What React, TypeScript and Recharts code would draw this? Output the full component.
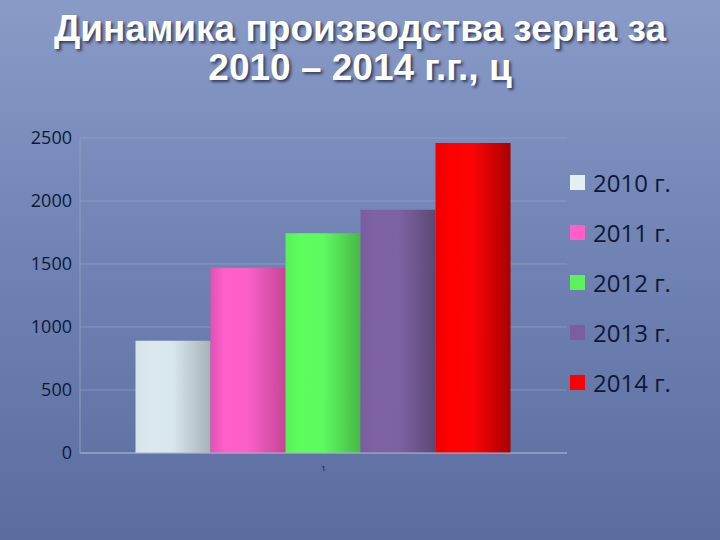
import React from "react";
import { BarChart, Bar, XAxis, YAxis, CartesianGrid, Legend } from "recharts";

const categories = ["1"];
const seriesKeys = ["y2010", "y2011", "y2012", "y2013", "y2014"];
const seriesNames = ["2010 г.", "2011 г.", "2012 г.", "2013 г.", "2014 г."];
const seriesValues = [890, 1470, 1745, 1930, 2460];
const yTicks = [0, 500, 1000, 1500, 2000, 2500];

// left / light / right stops of each cylinder-ish bar
const barStops = [
    ["#d5e3ea", "#dbe9ef", "#a6b2b8"],
    ["#e052b4", "#ff5fc9", "#c44696"],
    ["#58f058", "#5dfd5d", "#47b847"],
    ["#7a5d9e", "#7e62a2", "#5c4874"],
    ["#ee0000", "#ff0000", "#a80000"],
];
const legendColors = ["#e2f1ef", "#ff5fc9", "#5cf25c", "#7c5e9c", "#ff0000"];

const data = categories.map((name) => {
    const row: Record<string, string | number> = { name };
    seriesKeys.forEach((k, i) => {
        row[k] = seriesValues[i];
    });
    return row;
});

const textColor = "#0e1838";

const renderLegend = (props: any) => {
    const payload = props.payload || [];
    return (
        <div>
            {payload.map((entry: any, i: number) => (
                <div
                    key={`leg-${i}`}
                    style={{ display: "flex", alignItems: "center", height: 50 }}
                >
                    <div
                        style={{
                            width: 15,
                            height: 15,
                            background: legendColors[i],
                            marginRight: 8,
                        }}
                    />
                    <span style={{ fontFamily: "'Open Sans'", fontSize: 24, color: textColor }}>
                        {entry.value}
                    </span>
                </div>
            ))}
        </div>
    );
};

export default function App() {
    return (
        <div
            style={{
                position: "fixed",
                left: 0,
                top: 0,
                width: 720,
                height: 540,
                background: "linear-gradient(to bottom, #8a9bc7 0%, #7386b6 40%, #5b6d9f 100%)",
                overflow: "hidden",
            }}
        >
            <div
                style={{
                    position: "absolute",
                    left: 0,
                    top: 9,
                    width: 720,
                    textAlign: "center",
                    fontFamily: "'Liberation Sans', Arial, sans-serif",
                    fontWeight: "bold",
                    fontSize: 37,
                    lineHeight: "39px",
                    color: "#ffffff",
                    textShadow: "2px 2px 3px rgba(20, 30, 60, 0.75)",
                }}
            >
                Динамика производства зерна за
                <br />
                2010 – 2014 г.г., ц
            </div>
            <BarChart
                width={720}
                height={540}
                data={data}
                margin={{ top: 138, right: 3, bottom: 57, left: 0 }}
                barCategoryGap="11.4%"
                barGap={0}
                style={{ position: "absolute", left: 0, top: 0 }}
            >
                <defs>
                    {barStops.map((s, i) => (
                        <linearGradient key={`g-${i}`} id={`grad${i}`} x1="0" y1="0" x2="1" y2="0">
                            <stop offset="0%" stopColor={s[0]} />
                            <stop offset="18%" stopColor={s[1]} />
                            <stop offset="50%" stopColor={s[1]} stopOpacity={0.97} />
                            <stop offset="100%" stopColor={s[2]} />
                        </linearGradient>
                    ))}
                </defs>
                <CartesianGrid vertical={false} stroke="#9aa7c8" strokeOpacity={0.6} />
                <XAxis
                    dataKey="name"
                    height={30}
                    tickLine={false}
                    axisLine={{ stroke: "#a9b4d0" }}
                    tick={{ fontSize: 8, fill: textColor, fontFamily: "'Open Sans'" }}
                    tickMargin={6}
                />
                <YAxis
                    width={80}
                    domain={[0, 2500]}
                    ticks={yTicks}
                    tickLine={false}
                    axisLine={{ stroke: "#8f9cc0" }}
                    tick={{ fontSize: 18, fill: textColor, fontFamily: "'Open Sans'" }}
                    interval={0}
                />
                <Legend
                    layout="vertical"
                    align="right"
                    verticalAlign="top"
                    content={renderLegend}
                    wrapperStyle={{ position: "absolute", left: 570, top: 157, width: 150 }}
                />
                {seriesKeys.map((k, i) => (
                    <Bar
                        key={k}
                        dataKey={k}
                        name={seriesNames[i]}
                        fill={`url(#grad${i})`}
                        isAnimationActive={false}
                    />
                ))}
            </BarChart>
        </div>
    );
}
